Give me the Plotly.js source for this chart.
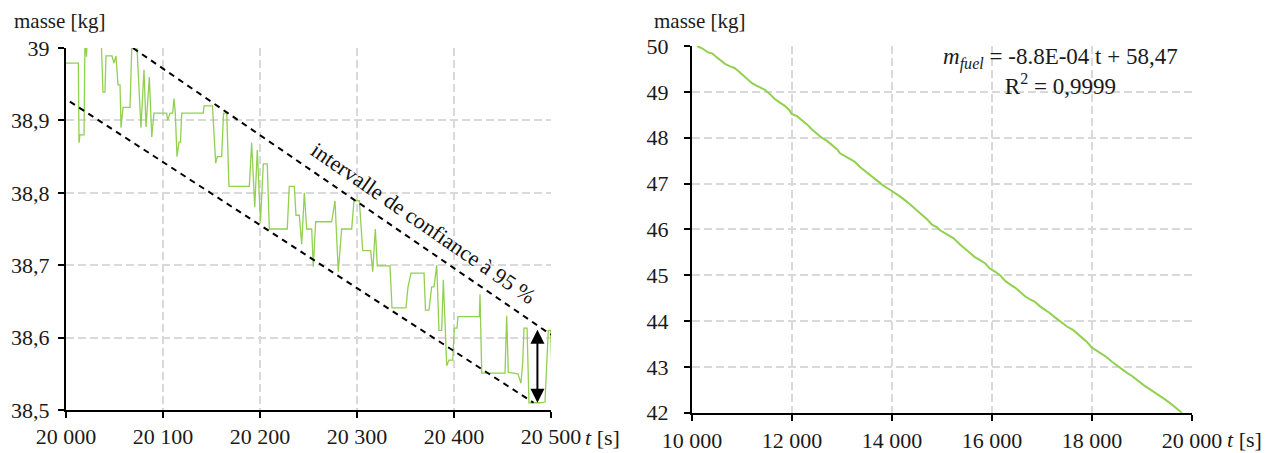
<!DOCTYPE html>
<html><head><meta charset="utf-8">
<script src="https://cdn.plot.ly/plotly-3.0.1.min.js"></script>
<style>html,body{margin:0;padding:0;background:#fff}</style>
</head><body>
<div id="chart" style="width:1271px;height:453px"></div>
<script>
// ---- Left chart: zoom 20 000 - 20 500 s ----
const leftTime = [20000,20012.7,20013.4,20014.4,20018.6,20019.6,20021.1,20022.2,20036.1,20038.1,20040.2,20041.2,20047.4,20049.5,20051.5,20053.6,20055.7,20056.7,20058.8,20066,20068,20073.2,20077.3,20080.4,20082.5,20085.9,20088.4,20090.7,20103.8,20104.8,20107.2,20110,20111.3,20112.7,20114.4,20116.5,20118,20119.3,20141.5,20142.3,20151,20154.3,20156,20160.5,20162.4,20165.7,20168,20189,20191.4,20194.6,20197.2,20200.5,20203.4,20207.5,20209.6,20228.1,20230.2,20235.4,20237.1,20240.5,20243,20245.7,20248.1,20253.3,20254.9,20257.4,20273.9,20277.3,20280.7,20284.2,20294.5,20296.9,20302.4,20305.9,20314.1,20316.2,20318.9,20320.9,20334,20336.1,20350.5,20352.6,20355.7,20365.7,20369.1,20370.6,20374.2,20377,20379.4,20382.2,20384.5,20387.3,20389,20392.5,20394.8,20398.7,20400.3,20403.1,20404.1,20426.1,20426.8,20428.6,20452.6,20454.3,20456,20466,20469,20470.8,20472.2,20475.3,20477.3,20488.7,20493.8,20497.2,20499.7,20502];
const leftMass = [38.979,38.979,38.869,38.88,38.88,39.02,38.988,39.02,39.02,38.939,38.939,38.989,38.989,38.979,38.989,38.949,38.949,38.89,38.918,38.918,39.01,39.0,38.89,38.97,38.891,38.96,38.877,38.91,38.91,38.90,38.91,38.91,38.93,38.91,38.85,38.87,38.87,38.91,38.91,38.92,38.92,38.841,38.85,38.85,38.91,38.91,38.809,38.809,38.869,38.78,38.859,38.76,38.84,38.84,38.75,38.75,38.809,38.809,38.769,38.769,38.729,38.80,38.75,38.75,38.698,38.76,38.76,38.789,38.691,38.75,38.75,38.789,38.789,38.72,38.72,38.691,38.75,38.699,38.699,38.641,38.641,38.67,38.689,38.689,38.689,38.638,38.638,38.67,38.67,38.70,38.61,38.61,38.68,38.561,38.569,38.569,38.613,38.613,38.629,38.629,38.66,38.551,38.551,38.63,38.552,38.55,38.537,38.565,38.613,38.613,38.51,38.51,38.511,38.61,38.61,38.50];
const ciUpperTime = [20069, 20500];
const ciUpperMass = [39.0, 38.604];
const ciLowerTime = [20004, 20482];
const ciLowerMass = [38.926, 38.51];
const arrowTime = 20486;
const arrowTopMass = 38.613;
const arrowBottomMass = 38.51;
const leftXTicks = [20000,20100,20200,20300,20400,20500];
const leftXLabels = ['20 000','20 100','20 200','20 300','20 400','20 500'];
const leftYTicks = [38.5,38.6,38.7,38.8,38.9,39];
const leftYLabels = ['38,5','38,6','38,7','38,8','38,9','39'];

// ---- Right chart: 10 000 - 20 000 s ----
const rightTime = [10100,10200,10320,10400,10500,10600,10660,10750,10850,10920,11000,11100,11200,11280,11360,11450,11550,11650,11750,11850,11950,11993,12100,12200,12300,12400,12500,12593,12700,12800,12900,12960,13050,13150,13250,13360,13450,13550,13650,13750,13820,13950,14050,14160,14300,14400,14500,14600,14700,14800,14893,14960,15100,15227,15350,15450,15560,15650,15760,15860,15960,16060,16160,16260,16360,16460,16560,16660,16760,16860,16960,17060,17160,17260,17360,17500,17627,17760,17893,18000,18160,18280,18400,18500,18593,18700,18800,18960,19060,19160,19260,19360,19460,19560,19660,19760,19880];
const rightMass = [50.00,49.95,49.86,49.84,49.75,49.65,49.61,49.56,49.52,49.46,49.38,49.30,49.19,49.14,49.10,49.05,48.96,48.85,48.77,48.70,48.60,48.52,48.47,48.39,48.29,48.18,48.08,48.00,47.93,47.85,47.75,47.66,47.60,47.54,47.48,47.36,47.28,47.18,47.10,47.02,46.96,46.87,46.80,46.72,46.60,46.51,46.42,46.33,46.22,46.10,46.05,45.98,45.89,45.81,45.68,45.58,45.48,45.40,45.33,45.26,45.14,45.08,45.00,44.88,44.80,44.73,44.64,44.54,44.47,44.42,44.32,44.25,44.17,44.08,44.00,43.88,43.80,43.68,43.55,43.42,43.31,43.22,43.11,43.03,42.94,42.87,42.80,42.66,42.58,42.51,42.44,42.37,42.29,42.21,42.13,42.03,41.90];
const rightXTicks = [10000,12000,14000,16000,18000,20000];
const rightXLabels = ['10 000','12 000','14 000','16 000','18 000','20 000'];
const rightYTicks = [42,43,44,45,46,47,48,49,50];
const rightYLabels = ['42','43','44','45','46','47','48','49','50'];

const GREEN = '#92D050';
const FONT = 'Liberation Serif';

const traces = [
  {x: leftTime, y: leftMass, type:'scatter', mode:'lines', line:{color:GREEN, width:1.3}, xaxis:'x', yaxis:'y', hoverinfo:'skip'},
  {x: ciUpperTime, y: ciUpperMass, type:'scatter', mode:'lines', line:{color:'#000', width:2, dash:'6px,5px'}, xaxis:'x', yaxis:'y', hoverinfo:'skip'},
  {x: ciLowerTime, y: ciLowerMass, type:'scatter', mode:'lines', line:{color:'#000', width:2, dash:'6px,5px'}, xaxis:'x', yaxis:'y', hoverinfo:'skip'},
  {x: rightTime, y: rightMass, type:'scatter', mode:'lines', line:{color:GREEN, width:2}, xaxis:'x2', yaxis:'y2', hoverinfo:'skip'}
];

function axis(extra) {
  return Object.assign({
    showgrid:true, gridcolor:'#d9d9d9', gridwidth:2, griddash:'8px,4px',
    showline:true, linecolor:'#000', linewidth:2, ticks:'outside', ticklen:6, tickwidth:2, tickcolor:'#000',
    zeroline:false, tickmode:'array', tickfont:{family:FONT, size:22, color:'#1a1a1a'}, automargin:false, fixedrange:true
  }, extra);
}

const layout = {
  width:1271, height:453,
  margin:{l:0, r:0, t:0, b:0},
  paper_bgcolor:'#fff', plot_bgcolor:'#fff',
  showlegend:false,
  font:{family:FONT, size:22, color:'#1a1a1a'},
  xaxis: axis({domain:[66/1271, 551/1271], range:[20000,20500], tickvals:leftXTicks, ticktext:leftXLabels, anchor:'y', ticklabelstandoff:0}),
  yaxis: axis({domain:[(453-410)/453, (453-48)/453], range:[38.5,39], tickvals:leftYTicks, ticktext:leftYLabels, anchor:'x', ticklabelstandoff:4}),
  xaxis2: axis({domain:[692/1271, 1192/1271], range:[10000,20000], tickvals:rightXTicks, ticktext:rightXLabels, anchor:'y2', ticklabelstandoff:1}),
  yaxis2: axis({domain:[(453-412.7)/453, (453-46)/453], range:[42,50], tickvals:rightYTicks, ticktext:rightYLabels, anchor:'x2', ticklabelstandoff:11}),
  annotations: [
    {xref:'paper', yref:'paper', x:12/1271, y:(453-21)/453, xanchor:'left', yanchor:'middle', text:'masse [kg]', showarrow:false, font:{family:FONT, size:21, color:'#1a1a1a'}},
    {xref:'paper', yref:'paper', x:652/1271, y:(453-21)/453, xanchor:'left', yanchor:'middle', text:'masse [kg]', showarrow:false, font:{family:FONT, size:21, color:'#1a1a1a'}},
    {xref:'paper', yref:'paper', x:583/1271, y:(453-437)/453, xanchor:'left', yanchor:'middle', text:'<i>t</i> [s]', showarrow:false, font:{family:FONT, size:22, color:'#1a1a1a'}},
    {xref:'paper', yref:'paper', x:1225/1271, y:(453-439)/453, xanchor:'left', yanchor:'middle', text:'<i>t</i> [s]', showarrow:false, font:{family:FONT, size:22, color:'#1a1a1a'}},
    {xref:'x', yref:'y', x:20369, y:38.758, text:'intervalle de confiance à 95 %', textangle:34.5, showarrow:false, font:{family:FONT, size:22, color:'#111'}},
    {xref:'x', yref:'y', x:arrowTime, y:arrowBottomMass, axref:'x', ayref:'y', ax:arrowTime, ay:arrowTopMass, text:'', showarrow:true, arrowside:'end+start', arrowhead:2, startarrowhead:2, arrowsize:1.4, startarrowsize:1.4, arrowwidth:2, arrowcolor:'#000'},
    {xref:'paper', yref:'paper', x:1060/1271, y:(453-71)/453, xanchor:'center', yanchor:'middle', align:'center', text:'<i>m<sub>fuel</sub></i> = -8.8E-04 t + 58,47<br>R<sup>2</sup> = 0,9999', showarrow:false, font:{family:FONT, size:23, color:'#1a1a1a'}}
  ]
};

Plotly.newPlot('chart', traces, layout, {staticPlot:true, displayModeBar:false});
</script>
</body></html>
